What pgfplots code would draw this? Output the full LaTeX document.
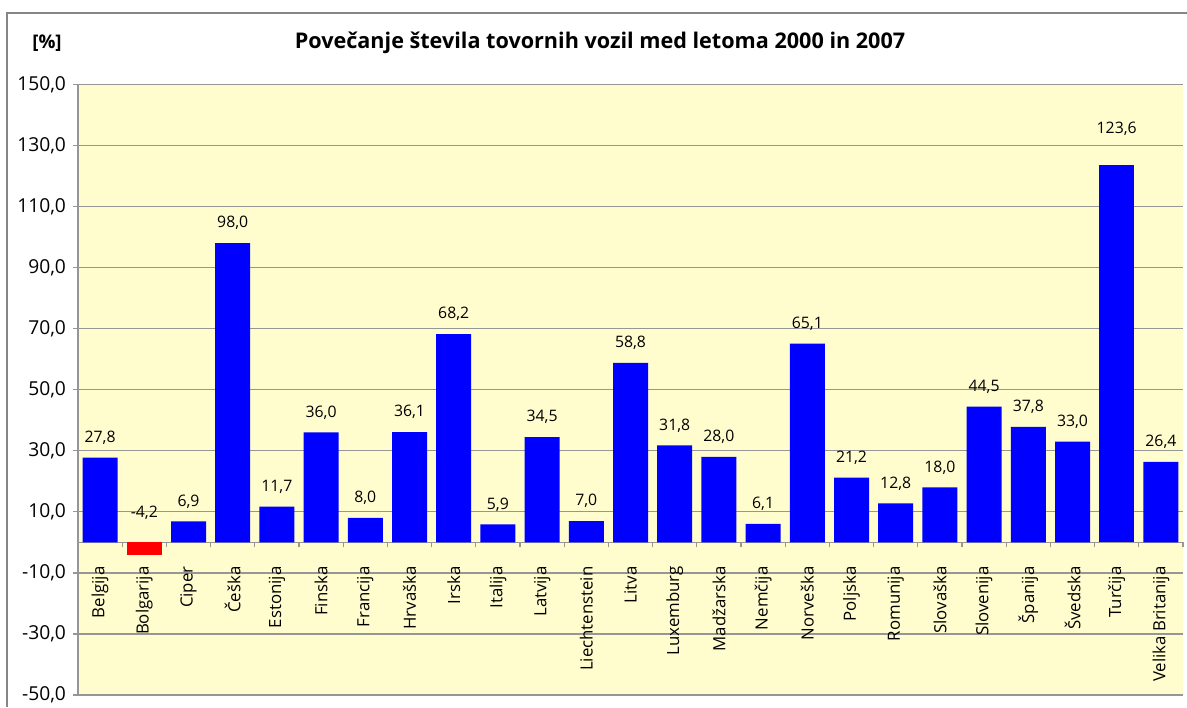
\documentclass[border=0pt]{standalone}
\usepackage{fontspec}
\setmainfont{Open Sans}
\usepackage{pgfplots}
\pgfplotsset{compat=1.18}
\definecolor{plotbg}{RGB}{255,253,206}
\definecolor{gridgray}{RGB}{150,150,150}
\definecolor{framegray}{RGB}{134,134,134}
\begin{document}
\begin{tikzpicture}
\path[use as bounding box] (0,0) rectangle (593.5pt,353.5pt);
\draw[framegray, line width=0.75pt] (3.5pt,0) -- (3.5pt,347pt) -- (593.5pt,347pt);
\node[font=\bfseries\fontsize{10.8}{12}\selectfont] at (300pt,332pt) {Povečanje števila tovornih vozil med letoma 2000 in 2007};
\node[font=\bfseries\fontsize{9.4}{10}\selectfont] at (23.5pt,332pt) {[\%]};
\begin{axis}[
  at={(39pt,6pt)}, anchor=south west,
  scale only axis, width=552.5pt, height=305.25pt,
  xmin=-0.5, xmax=24.5, ymin=-50, ymax=150,
  axis background/.style={fill=plotbg},
  axis x line=middle, axis y line=left,
  axis line style={-, draw=gridgray, line width=0.75pt},
  ytick={-50,-30,...,150},
  ymajorgrids, grid style={gridgray, line width=0.6pt},
  xtick={0,...,24},
  xticklabels={Belgija,Bolgarija,Ciper,Češka,Estonija,Finska,Francija,Hrvaška,Irska,Italija,Latvija,Liechtenstein,Litva,Luxemburg,Madžarska,Nemčija,Norveška,Poljska,Romunija,Slovaška,Slovenija,Španija,Švedska,Turčija,Velika Britanija},
  major x tick style={draw=none},
  minor xtick={-0.5,0.5,...,24.5},
  tick align=outside,
  major tick length=2.5pt, minor tick length=2.5pt,
  tick style={gridgray, line width=0.6pt},
  /pgf/number format/assume math mode=true,
  /pgf/number format/fixed,
  /pgf/number format/fixed zerofill,
  /pgf/number format/precision=1,
  /pgf/number format/use comma,
  /pgf/number format/1000 sep={},
  yticklabel style={font=\fontsize{9.6}{10}\selectfont},
  xticklabel style={font=\fontsize{8.4}{10}\selectfont, rotate=90, anchor=east, xshift=-6pt},
  every node near coord/.append style={font=\fontsize{7.9}{9}\selectfont, anchor=center, yshift=10pt},
  clip=false,
]
\addplot[ybar, bar width=17.5pt, fill=blue, draw=none, nodes near coords] coordinates {
 (0,27.8) (2,6.9) (3,98.0) (4,11.7) (5,36.0) (6,8.0) (7,36.1) (8,68.2) (9,5.9)
 (10,34.5) (11,7.0) (12,58.8) (13,31.8) (14,28.0) (15,6.1) (16,65.1) (17,21.2)
 (18,12.8) (19,18.0) (20,44.5) (21,37.8) (22,33.0) (24,26.4)
};
\addplot[ybar, bar width=17.5pt, fill=blue, draw=none, nodes near coords,
  every node near coord/.append style={yshift=8pt}] coordinates {(23,123.6)};
\addplot[ybar, bar width=17.5pt, fill=red, draw=none, nodes near coords,
  every node near coord/.append style={yshift=11pt}] coordinates {(1,-4.2)};
\end{axis}
\end{tikzpicture}
\end{document}
